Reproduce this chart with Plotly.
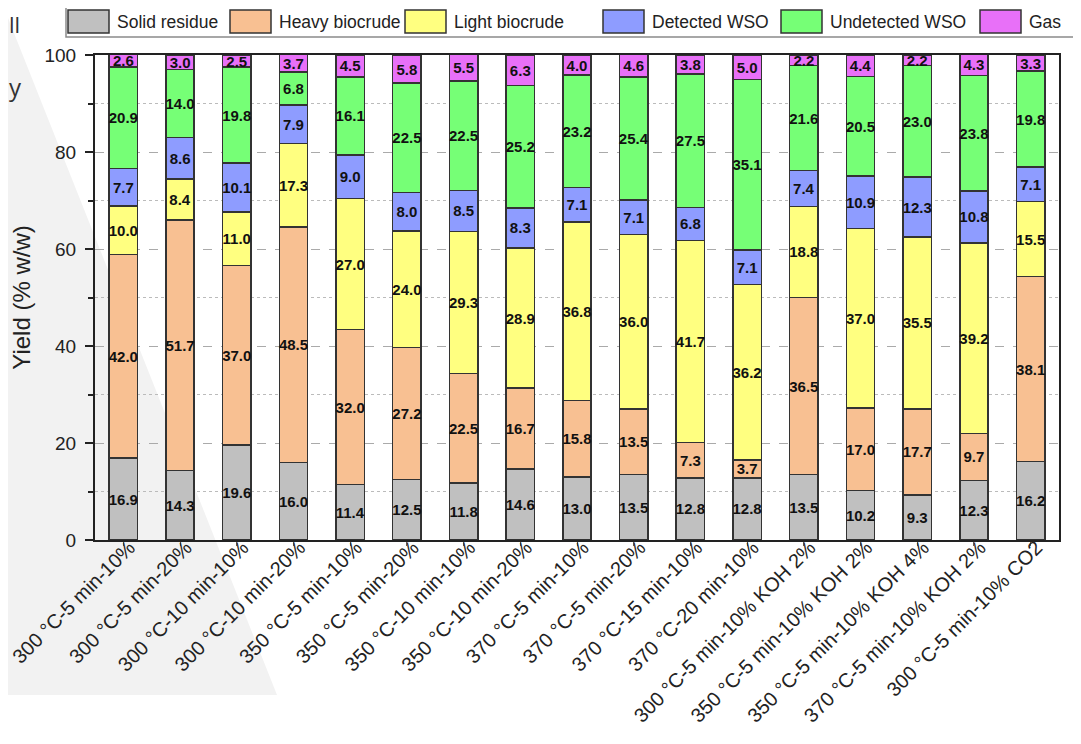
import plotly.graph_objects as go

categories = [
    "300 °C-5 min-10%", "300 °C-5 min-20%", "300 °C-10 min-10%", "300 °C-10 min-20%",
    "350 °C-5 min-10%", "350 °C-5 min-20%", "350 °C-10 min-10%", "350 °C-10 min-20%",
    "370 °C-5 min-10%", "370 °C-5 min-20%", "370 °C-15 min-10%", "370 °C-20 min-10%",
    "300 °C-5 min-10% KOH 2%", "350 °C-5 min-10% KOH 2%", "350 °C-5 min-10% KOH 4%",
    "370 °C-5 min-10% KOH 2%", "300 °C-5 min-10% CO2",
]
solid_residue = [16.9, 14.3, 19.6, 16.0, 11.4, 12.5, 11.8, 14.6, 13.0, 13.5, 12.8, 12.8, 13.5, 10.2, 9.3, 12.3, 16.2]
heavy_biocrude = [42.0, 51.7, 37.0, 48.5, 32.0, 27.2, 22.5, 16.7, 15.8, 13.5, 7.3, 3.7, 36.5, 17.0, 17.7, 9.7, 38.1]
light_biocrude = [10.0, 8.4, 11.0, 17.3, 27.0, 24.0, 29.3, 28.9, 36.8, 36.0, 41.7, 36.2, 18.8, 37.0, 35.5, 39.2, 15.5]
detected_wso = [7.7, 8.6, 10.1, 7.9, 9.0, 8.0, 8.5, 8.3, 7.1, 7.1, 6.8, 7.1, 7.4, 10.9, 12.3, 10.8, 7.1]
undetected_wso = [20.9, 14.0, 19.8, 6.8, 16.1, 22.5, 22.5, 25.2, 23.2, 25.4, 27.5, 35.1, 21.6, 20.5, 23.0, 23.8, 19.8]
gas = [2.6, 3.0, 2.5, 3.7, 4.5, 5.8, 5.5, 6.3, 4.0, 4.6, 3.8, 5.0, 2.2, 4.4, 2.2, 4.3, 3.3]

series_names = ["Solid residue", "Heavy biocrude", "Light biocrude", "Detected WSO", "Undetected WSO", "Gas"]
series_values = [solid_residue, heavy_biocrude, light_biocrude, detected_wso, undetected_wso, gas]
series_colors = ["#C0C0C0", "#F8C092", "#FFFF80", "#8E9CFF", "#76FF76", "#E870F8"]

FONT = "Arial, Liberation Sans, sans-serif"

# The page body adds an 8 px offset, so the figure is 8 px smaller than the window.
OFF = 8
W, H = 1081 - OFF, 744 - OFF
# plot-area edges in screenshot pixels
RL, RR, RT, RB = 95, 1059, 55, 540

def px(x):
    return (x - RL) / (RR - RL)
def py(y):
    return (RB - y) / (RB - RT)

fig = go.Figure()
for name, vals, color in zip(series_names, series_values, series_colors):
    fig.add_trace(go.Bar(
        x=categories, y=vals, name=name,
        marker=dict(color=color, line=dict(color="#333333", width=1.5)),
        text=[f"{v:.1f}" for v in vals],
        texttemplate="<b>%{text}</b>",
        textposition="inside", insidetextanchor="middle",
        textangle=0, constraintext="none",
        textfont=dict(family=FONT, size=15, color="#111111"),
        cliponaxis=True,
    ))

# decorative background wedge of the source screenshot
fig.add_shape(
    type="path", xref="paper", yref="paper", layer="below",
    path=f"M {px(0)},{py(18)} L {px(8)},{py(18)} L {px(277)},{py(695)} L {px(0)},{py(695)} Z",
    fillcolor="#F2F2F2", line=dict(width=0),
)
fig.add_annotation(text="ll", xref="paper", yref="paper", x=px(7), y=py(24),
                   xanchor="left", yanchor="middle", showarrow=False,
                   font=dict(family="Open Sans, sans-serif", size=22, color="#333333"))
fig.add_annotation(text="y", xref="paper", yref="paper", x=px(7), y=py(86),
                   xanchor="left", yanchor="middle", showarrow=False,
                   font=dict(family="Open Sans, sans-serif", size=24, color="#333333"))

# single-row boxed legend (drawn manually so it stays on one line like the source)
legend_text_x = [115, 277, 452, 650, 828, 1027]
fig.add_shape(type="rect", xref="paper", yref="paper",
              x0=px(66), x1=px(1110), y0=py(37), y1=py(6),
              fillcolor="white", line=dict(color="#8A8A8A", width=1.5))
for name, color, tx in zip(series_names, series_colors, legend_text_x):
    fig.add_shape(type="rect", xref="paper", yref="paper",
                  x0=px(tx - 47), x1=px(tx - 6), y0=py(33), y1=py(10),
                  fillcolor=color, line=dict(color="#333333", width=1.5))
    fig.add_annotation(text=name, xref="paper", yref="paper", x=px(tx), y=py(21.5),
                       xanchor="left", yanchor="middle", showarrow=False,
                       font=dict(family=FONT, size=17.5, color="#222222"))

fig.update_layout(
    width=W, height=H,
    margin=dict(l=RL - OFF, r=W - (RR - OFF), t=RT - OFF, b=H - (RB - OFF), autoexpand=False),
    barmode="stack", bargap=0.5,
    paper_bgcolor="white", plot_bgcolor="rgba(0,0,0,0)",
    font=dict(family=FONT, color="#222222"),
    showlegend=False,
)
fig.update_xaxes(
    range=[-0.5, 16.5], tickangle=-45, automargin=False,
    tickfont=dict(family=FONT, size=20, color="#222222"),
    ticklabelstandoff=-18, ticklabelshift=6,
    showline=True, linecolor="#222222", linewidth=2, mirror=True,
    ticks="outside", ticklen=4, tickcolor="#666666",
    showgrid=False,
)
fig.update_yaxes(
    range=[0, 100], dtick=20, automargin=False,
    tickfont=dict(family=FONT, size=19, color="#222222"),
    ticklabelstandoff=5,
    title=dict(text="Yield (% w/w)", font=dict(family=FONT, size=24, color="#222222"), standoff=12),
    showline=True, linecolor="#222222", linewidth=2, mirror=True,
    ticks="outside", ticklen=8, tickwidth=2, tickcolor="#222222",
    showgrid=True, gridcolor="#AAAAAA", griddash="dash", gridwidth=1,
    zeroline=False,
    minor=dict(dtick=10, ticks="outside", ticklen=5, tickwidth=2, tickcolor="#222222",
               showgrid=True, gridcolor="#BBBBBB", griddash="dot", gridwidth=1),
)

fig.write_html("out.html")
